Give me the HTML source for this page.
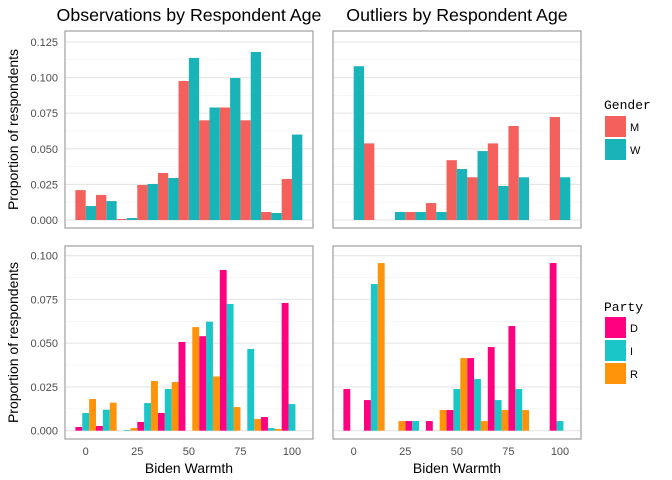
<!DOCTYPE html>
<html><head><meta charset="utf-8"><style>
body{margin:0;background:#fff;}
svg{display:block;font-family:"Liberation Sans",sans-serif;}
</style></head><body>
<svg id="c" width="672" height="480" viewBox="0 0 672 480"></svg>
<script>
const bins=[0,10,20,30,40,50,60,70,80,90,100];
const genderKeys=['M','W'];
const partyKeys=['D','I','R'];
const obsM=[0.021,0.0176,0.0007,0.0246,0.033,0.0976,0.070,0.079,0.070,0.0056,0.0288];
const obsW=[0.0098,0.0133,0.0014,0.0253,0.0295,0.1138,0.079,0.0997,0.118,0.0049,0.060];
const outM=[0,0.0538,0,0.0056,0.0119,0.042,0.030,0.0538,0.066,0,0.0723];
const outW=[0.108,0,0.0056,0.0056,0.0056,0.0358,0.0484,0.0239,0.030,0,0.030];
const obsD=[0.0021,0.0027,0,0.005,0.0101,0.0507,0.054,0.0918,0,0.0078,0.073];
const obsI=[0.0101,0.012,0.0004,0.0158,0.0238,0,0.0623,0.0724,0.0467,0.0015,0.0152];
const obsR=[0.0181,0.0160,0.0015,0.0284,0.0278,0.0592,0.031,0.0135,0.0067,0.001,0];
const outD=[0.0238,0.0175,0,0.0055,0.0055,0.0118,0.0415,0.0478,0.0598,0,0.0958];
const outI=[0,0.0838,0,0.0055,0,0.0238,0.0295,0.0175,0.0238,0,0.0055];
const outR=[0,0.0958,0.0055,0,0.0118,0.0415,0.0055,0.0118,0.0118,0,0];
const xTicks=[0,25,50,75,100];
const yTicksTop=[0,0.025,0.05,0.075,0.1,0.125];
const yTicksBot=[0,0.025,0.05,0.075,0.1];
const genderColors={M:'#F4605B',W:'#18B4B8'};
const partyColors={D:'#FF0080',I:'#1BC6C8',R:'#FF940A'};

const NS='http://www.w3.org/2000/svg';
const svg=document.getElementById('c');
function mk(tag,attrs,parent){const e=document.createElementNS(NS,tag);for(const k in attrs)e.setAttribute(k,attrs[k]);(parent||svg).appendChild(e);return e;}

const panels=[
 {name:'observations-gender',x:65,y:31,h:197,zeroY:220,perUnit:178/0.125,series:[obsM,obsW],keys:genderKeys,colors:genderColors,ticks:yTicksTop,labels:true,xl:false},
 {name:'outliers-gender',x:333,y:31,h:197,zeroY:220,perUnit:178/0.125,series:[outM,outW],keys:genderKeys,colors:genderColors,ticks:yTicksTop,labels:false,xl:false},
 {name:'observations-party',x:65,y:246,h:193,zeroY:430.7,perUnit:175/0.1,series:[obsD,obsI,obsR],keys:partyKeys,colors:partyColors,ticks:yTicksBot,labels:true,xl:true},
 {name:'outliers-party',x:333,y:246,h:193,zeroY:430.7,perUnit:175/0.1,series:[outD,outI,outR],keys:partyKeys,colors:partyColors,ticks:yTicksBot,labels:false,xl:true}
];
const W=248;
panels.forEach(p=>{
 const g=mk('g',{});
 
 
 const xs=v=>p.x+20.7+v*2.063;
 const ys=v=>p.zeroY-v*p.perUnit;
 const step=p.ticks[1]-p.ticks[0];
 for(let i=0;i<p.ticks.length;i++){
  const t=p.ticks[i];
  const l=mk('line',{x1:p.x,x2:p.x+W,y1:ys(t),y2:ys(t),stroke:'#e6e6e6','stroke-width':1.1},g);
  
  
  const m=t+step/2;
  if(ys(m)>p.y){
   const l2=mk('line',{x1:p.x,x2:p.x+W,y1:ys(m),y2:ys(m),stroke:'#f2f2f2','stroke-width':0.6},g);
   
   
  }
  if(p.labels){
   const tx=mk('text',{x:58,y:ys(t)+4,'text-anchor':'end','font-size':11,fill:'#4d4d4d'},g);
   tx.textContent=t.toFixed(3);
   
   
  }
 }
 const n=p.keys.length, bw=20.63/n;
 p.series.forEach((s,si)=>{
  s.forEach((v,bi)=>{
   if(v<=0)return;
   const x0=xs(bins[bi])-10.315+si*bw;
   const r=mk('rect',{x:x0,y:ys(v),width:bw,height:p.zeroY-ys(v),fill:p.colors[p.keys[si]]},g);
   
   
  });
 });
 const b=mk('rect',{x:p.x,y:p.y,width:W,height:p.h,fill:'none',stroke:'#a6a6a6','stroke-width':1.3},g);
 
 
 if(p.xl){
  xTicks.forEach(t=>{
   const tx=mk('text',{x:xs(t),y:455,'text-anchor':'middle','font-size':11,fill:'#4d4d4d'},g);
   tx.textContent=t;
   
   
  });
  const at=mk('text',{x:p.x+W/2,y:473,'text-anchor':'middle','font-size':14,fill:'#000'},g);
  at.textContent='Biden Warmth';
  
  
 }
 if(p.labels){
  const cy=p.y+p.h/2;
  const yt=mk('text',{x:18,y:cy,'text-anchor':'middle','font-size':14,fill:'#000',transform:'rotate(-90 18 '+cy+')'},g);
  yt.textContent='Proportion of respondents';
  
  
 }
});
const t1=mk('text',{x:189,y:21,'text-anchor':'middle','font-size':17.8,fill:'#000'});
t1.textContent='Observations by Respondent Age';


const t2=mk('text',{x:457,y:21,'text-anchor':'middle','font-size':17.8,fill:'#000'});
t2.textContent='Outliers by Respondent Age';



function legend(title,keys,colors,ty,ky){
 const lt=mk('text',{x:604,y:ty,'font-size':13,'font-family':'"Liberation Mono",monospace',fill:'#000'});
 lt.textContent=title;
 
 
 keys.forEach((k,i)=>{
  const r=mk('rect',{x:605,y:ky+i*23,width:21,height:21,fill:colors[k]});
  
  
  const t=mk('text',{x:630,y:ky+i*23+15,'font-size':11,fill:'#000'});
  t.textContent=k;
  
  
 });
}
legend('Gender',genderKeys,genderColors,109,116);
legend('Party',partyKeys,partyColors,311,317);
</script>
</body></html>
